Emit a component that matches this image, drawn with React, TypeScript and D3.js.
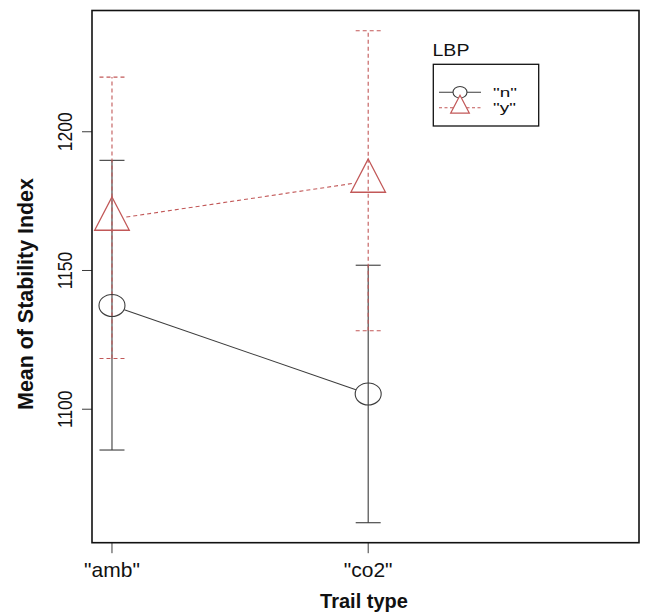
import * as d3 from "d3";
import { useEffect, useRef } from "react";

// values
const trailTypes = ['"amb"', '"co2"'];
const lbpLevels = ['"n"', '"y"'];
const meanN = [1137.4, 1105.5];
const lowerN = [1085.3, 1059.1];
const upperN = [1189.7, 1151.9];
const meanY = [1168.5, 1182.2];
const lowerY = [1118.3, 1128.3];
const upperY = [1219.7, 1236.4];
const yTicks = [1100, 1150, 1200];

const BLACK = "#3c3c3c";
const RED = "#c25858";
const FONT = "'Liberation Sans', Arial, Helvetica, sans-serif";

export default function App() {
    const ref = useRef<SVGSVGElement>(null);

    useEffect(() => {
        const svg = d3.select(ref.current);
        svg.selectAll("*").remove();

        const width = 649;
        const height = 613;
        const box = { left: 92, right: 639, top: 10.5, bottom: 542.7 };

        svg.attr("width", width).attr("height", height);

        const x = d3.scaleLinear().domain([0.922, 3.057]).range([box.left, box.right]);
        const y = d3.scaleLinear().domain([1051.9, 1243.7]).range([box.bottom, box.top]);

        // axes (R style: ticks outside, labels away from box)
        const xAxis = svg.append("g");
        trailTypes.forEach((t, i) => {
            const px = x(i + 1);
            xAxis.append("line")
                .attr("x1", px).attr("x2", px)
                .attr("y1", box.bottom).attr("y2", box.bottom + 10.5)
                .attr("stroke", BLACK).attr("stroke-width", 1);
            xAxis.append("text")
                .attr("x", px).attr("y", 577)
                .attr("text-anchor", "middle")
                .style("font-family", FONT)
                .style("font-size", "21px")
                .attr("fill", "#111")
                .text(t);
        });

        const yAxis = svg.append("g");
        yTicks.forEach(v => {
            const py = y(v);
            yAxis.append("line")
                .attr("x1", box.left - 10).attr("x2", box.left)
                .attr("y1", py).attr("y2", py)
                .attr("stroke", BLACK).attr("stroke-width", 1);
            yAxis.append("text")
                .attr("transform", `translate(71.5,${py}) scale(1.2,1) rotate(-90)`)
                .attr("text-anchor", "middle")
                .style("font-family", FONT)
                .style("font-size", "17.5px")
                .attr("fill", "#111")
                .text(v);
        });

        // titles
        svg.append("text")
            .attr("x", 364).attr("y", 608)
            .attr("text-anchor", "middle")
            .style("font-family", FONT)
            .style("font-size", "20px")
            .style("font-weight", "bold")
            .attr("fill", "#111")
            .text("Trail type");

        svg.append("text")
            .attr("transform", `translate(33,294) rotate(-90)`)
            .attr("text-anchor", "middle")
            .style("font-family", FONT)
            .style("font-size", "21.4px")
            .style("font-weight", "bold")
            .attr("fill", "#111")
            .text("Mean of Stability Index");

        // error bars
        const capW = 12.5;
        const bars = (lo: number[], hi: number[], color: string, dash: string | null) => {
            const g = svg.append("g")
                .attr("stroke", color)
                .attr("stroke-width", 1.1)
                .attr("stroke-dasharray", dash);
            lo.forEach((l, i) => {
                const px = x(i + 1);
                g.append("line").attr("x1", px).attr("x2", px).attr("y1", y(l)).attr("y2", y(hi[i]));
                [l, hi[i]].forEach(v => {
                    g.append("line")
                        .attr("x1", px - capW).attr("x2", px + capW)
                        .attr("y1", y(v)).attr("y2", y(v));
                });
            });
        };
        bars(lowerN, upperN, BLACK, null);
        bars(lowerY, upperY, RED, "4,3");

        // connecting lines with gaps at the points (type = "b")
        const joined = (vals: number[], color: string, dash: string | null, gap: number) => {
            for (let i = 0; i < vals.length - 1; i++) {
                const x0 = x(i + 1), y0 = y(vals[i]);
                const x1 = x(i + 2), y1 = y(vals[i + 1]);
                const len = Math.hypot(x1 - x0, y1 - y0);
                const ux = (x1 - x0) / len, uy = (y1 - y0) / len;
                svg.append("line")
                    .attr("x1", x0 + ux * gap).attr("y1", y0 + uy * gap)
                    .attr("x2", x1 - ux * gap).attr("y2", y1 - uy * gap)
                    .attr("stroke", color)
                    .attr("stroke-width", 1.1)
                    .attr("stroke-dasharray", dash);
            }
        };
        joined(meanN, BLACK, null, 13);
        joined(meanY, RED, "4,3", 14.5);

        const triPath = (cx: number, cy: number, r: number) => {
            const hw = r * 0.78;
            return `M${cx},${cy - r}L${cx + hw},${cy + r / 2}L${cx - hw},${cy + r / 2}Z`;
        };

        // points
        meanN.forEach((v, i) => {
            svg.append("ellipse")
                .attr("cx", x(i + 1)).attr("cy", y(v))
                .attr("rx", 13).attr("ry", 11)
                .attr("fill", "none")
                .attr("stroke", BLACK).attr("stroke-width", 1.1);
        });
        meanY.forEach((v, i) => {
            svg.append("path")
                .attr("d", triPath(x(i + 1), y(v), 22.2))
                .attr("fill", "none")
                .attr("stroke", RED).attr("stroke-width", 1.3);
        });

        // plot box
        svg.append("rect")
            .attr("x", box.left).attr("y", box.top)
            .attr("width", box.right - box.left)
            .attr("height", box.bottom - box.top)
            .attr("fill", "none")
            .attr("stroke", "#111")
            .attr("stroke-width", 1.6);

        // legend
        const lg = svg.append("g");
        lg.append("text")
            .attr("transform", "translate(432.5,55.5) scale(1.15,1)")
            .style("font-family", FONT)
            .style("font-size", "17px")
            .attr("fill", "#111")
            .text("LBP");
        lg.append("rect")
            .attr("x", 433.3).attr("y", 64.3)
            .attr("width", 105.4).attr("height", 61.7)
            .attr("fill", "none")
            .attr("stroke", "#111")
            .attr("stroke-width", 1.3);

        const rows = [
            { label: lbpLevels[0], y: 92.3, color: BLACK, dash: null as string | null },
            { label: lbpLevels[1], y: 107.7, color: RED, dash: "3,2.5" },
        ];
        rows.forEach((r, i) => {
            lg.append("line")
                .attr("x1", 439).attr("x2", 481)
                .attr("y1", r.y).attr("y2", r.y)
                .attr("stroke", r.color).attr("stroke-width", 1.1)
                .attr("stroke-dasharray", r.dash);
            if (i === 0) {
                lg.append("ellipse")
                    .attr("cx", 460).attr("cy", r.y)
                    .attr("rx", 7).attr("ry", 5.8)
                    .attr("fill", "white")
                    .attr("stroke", r.color).attr("stroke-width", 1.1);
            } else {
                lg.append("path")
                    .attr("d", triPath(460, r.y - 0.5, 12))
                    .attr("fill", "white")
                    .attr("stroke", r.color).attr("stroke-width", 1.2);
            }
            lg.append("text")
                .attr("transform", `translate(493,${r.y + 4.5}) scale(1.4,1)`)
                .style("font-family", FONT)
                .style("font-size", "13.5px")
                .attr("fill", "#111")
                .text(r.label);
        });
    }, []);

    return (
        <div style={{ position: "absolute", left: 0, top: 0 }}>
            <svg ref={ref} style={{ display: "block" }} />
        </div>
    );
}
